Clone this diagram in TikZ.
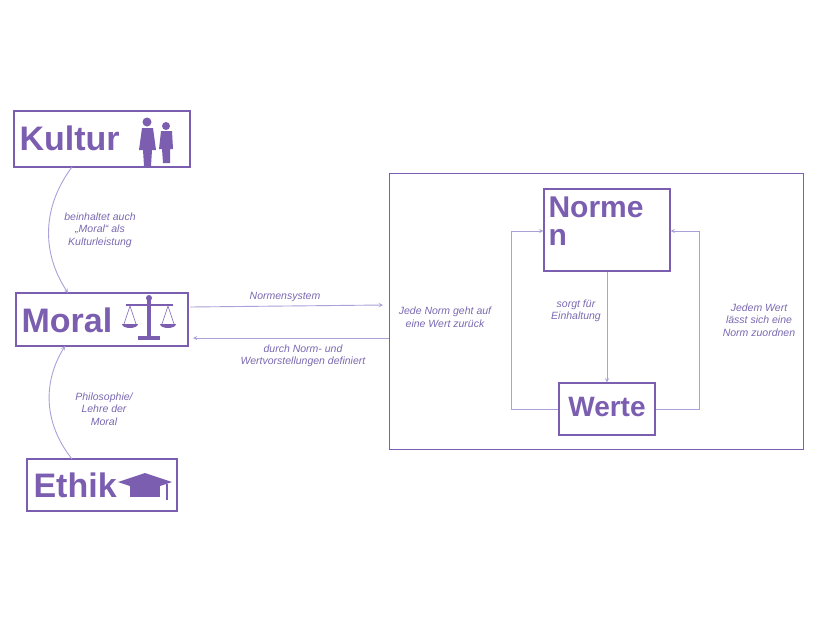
\documentclass[tikz,border=0pt]{standalone}
\usepackage{fontspec}
\setmainfont{Liberation Sans}
\usetikzlibrary{calc}
\definecolor{lila}{HTML}{7B5EB0}
\definecolor{hell}{HTML}{ABA0D8}
\definecolor{txt}{HTML}{7A68B0}
\begin{document}
\begin{tikzpicture}[x=1pt, y=-1pt, >=stealth,
  every box/.style={draw=lila, line width=1.2pt, inner sep=0pt},
  title/.style={font=\fontsize{34}{34}\selectfont\bfseries, text=lila, anchor=west},
  lbl/.style={font=\fontsize{10.5}{12.5}\selectfont\itshape, text=txt, align=center},
  conn/.style={draw=hell, line width=0.9pt, ->}]

\useasboundingbox (0,0) rectangle (828,622);

% Kästen
\draw [every box] (14,111) rectangle (190,167);
\draw [every box] (16,293) rectangle (188,346);
\draw [every box] (27,459) rectangle (177,511);
\draw [draw=lila, line width=1pt] (389,173) rectangle (803,449);
\node [every box, minimum width=126pt, minimum height=82pt] (normen) at (607,230) {};
\node [every box, minimum width=96pt, minimum height=52pt] (werte) at (607,409) {};

\coordinate (kultur) at (72,167);
\coordinate (moraltop) at (68,293);
\coordinate (moralbot) at (65,346);
\coordinate (ethik) at (72,459);

\node [title] (t-kultur) at (16,138) {Kultur};
\node [title] (t-moral) at (18,320) {Moral};
\node [title] (t-ethik) at (30,485) {Ethik};
\node [title, anchor=north west, align=left, font=\fontsize{30}{28}\selectfont\bfseries] (t-normen) at (545,193) {Norme\\n};
\node [title, anchor=center, font=\fontsize{28}{28}\selectfont\bfseries] (t-werte) at (607,407) {Werte};

% Symbole
\begin{scope}[fill=lila]
  \fill (147,122) circle (4.5); \fill (142,128) -- (153,128) -- (156,150) -- (152,150) -- (151,166) -- (144,166) -- (143,150) -- (139,150) -- cycle;
  \fill (166,126) circle (4); \fill (161,131) -- (172,131) -- (173,149) -- (170,149) -- (170,163) -- (163,163) -- (162,149) -- (159,149) -- cycle;
  \fill (147,297) rectangle (151,336); \fill (138,336) rectangle (160,340);
  \fill (126,304) rectangle (173,306); \fill (149,298) circle (3);
  \draw [lila, line width=0.6pt] (130,306) -- (124,324) (130,306) -- (136,324) (168,306) -- (162,324) (168,306) -- (174,324);
  \fill (122,324) arc (180:360:8 and -4) -- cycle; \fill (160,324) arc (180:360:8 and -4) -- cycle;
  \fill (145,473) -- (172,482) -- (145,491) -- (118,482) -- cycle;
  \fill (130,486) rectangle (160,497);
  \fill (166,484) rectangle (168,500);
\end{scope}

% Verbindungen
\draw [conn] (kultur) to [bend right=35] (moraltop);
\node [lbl] (l-kultur) at (100,230) {beinhaltet auch\\„Moral“ als\\Kulturleistung};
\draw [conn] (ethik) to [bend left=35] (moralbot);
\node [lbl] (l-ethik) at (104,409) {Philosophie/\\Lehre der\\Moral};
\draw [conn] (190,307) -- (383,305);
\node [lbl] (l-normsys) at (285,297) {Normensystem};
\draw [conn] (389,338) -- (193,338);
\node [lbl] (l-def) at (303,356) {durch Norm- und\\Wertvorstellungen definiert};
\draw [conn] (normen) -- (werte);
\node [lbl] (l-sorgt) at (576,311) {sorgt für\\Einhaltung};
\draw [conn] (werte.west) -| (511,231) -- (normen.west |- 0,231);
\node [lbl] (l-jede) at (445,317) {Jede Norm geht auf\\eine Wert zurück};
\draw [conn] (werte.east) -| (699,231) -- (normen.east |- 0,231);
\node [lbl] (l-jedem) at (759,320) {Jedem Wert\\lässt sich eine\\Norm zuordnen};
\end{tikzpicture}
\end{document}
